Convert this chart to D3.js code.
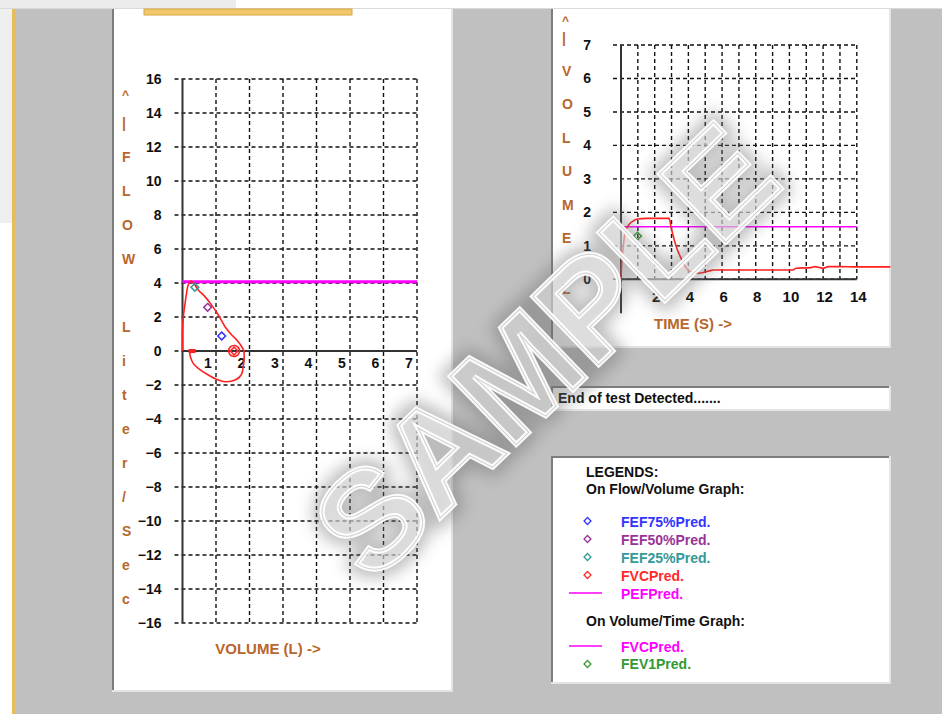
<!DOCTYPE html>
<html><head><meta charset="utf-8">
<script src="https://cdn.jsdelivr.net/npm/d3@7"></script>
<style>
body{margin:0;background:#c0c0c0;overflow:hidden}
svg{display:block}
text{font-family:"Liberation Sans",Arial,sans-serif;font-weight:bold}
</style>
</head><body>
<svg id="c" width="942" height="714"></svg>
<script>
// ---------------- DATA ----------------
const flowTicks = [16,14,12,10,8,6,4,2,0,-2,-4,-6,-8,-10,-12,-14,-16];
const volumeTicks = [1,2,3,4,5,6,7];
const flowTitleChars = ["|","F","L","O","W"," ","L","i","t","e","r","/","S","e","c"];
const loopVolume = [0.00,0.00,0.00,0.02,0.07,0.12,0.17,0.25,0.35,0.47,0.67,0.87,1.07,1.27,1.47,1.62,1.77,1.83,1.84,1.82,1.75,1.57,1.27,1.07,0.77,0.47,0.32,0.25,0.22,0.25];
const loopFlow   = [0.00,0.50,1.14,1.92,2.70,3.39,3.88,4.12,3.95,3.59,3.20,2.70,2.12,1.43,0.94,0.65,0.25,0.00,-0.40,-0.82,-1.41,-1.71,-1.81,-1.71,-1.41,-1.02,-0.73,-0.43,-0.08,0.00];
const pefPred = 4.07;
const predNames  = ["FEF75%Pred.","FEF50%Pred.","FEF25%Pred.","FVCPred."];
const predVolume = [1.17,0.75,0.37,1.54];
const predFlow   = [0.88,2.57,3.75,0.00];
const loopStartVolume = 0.27;

const timeTicksY = [0,1,2,3,4,5,6,7];
const timeTicksX = [2,4,6,8,10,12,14];
const timeGridX = [1,2,3,4,5,6,7,8,9,10,11,12,13,14];
const volTitleChars = ["|","V","O","L","U","M","E"];
const timeSec = [0,0.02,0.10,0.25,0.50,0.75,1.0,1.5,2.0,2.5,2.85,2.9,3.0,3.15,3.3,3.5,3.7,3.9,4.1,4.4,4.7,5.0,5.3,5.5,6.5,8.0,10.2,10.4,11.3,11.5,11.8,12.0,12.3,13.0,14.0,16.0];
const timeVol = [0,0.30,0.80,1.40,1.65,1.75,1.80,1.82,1.82,1.82,1.82,1.75,1.50,1.20,0.95,0.70,0.48,0.32,0.23,0.18,0.19,0.22,0.26,0.28,0.28,0.28,0.28,0.33,0.35,0.38,0.35,0.33,0.38,0.38,0.37,0.37];
const fvcPredVT = 1.57;
const fev1Time = 0.98, fev1Vol = 1.29;

const legendFlowNames = ["FEF75%Pred.","FEF50%Pred.","FEF25%Pred.","FVCPred.","PEFPred."];
const legendTimeNames = ["FVCPred.","FEV1Pred."];

// ---------------- STYLE ----------------
const C = {bg:"#c0c0c0", brown:"#b8672c", grid:"#111", axis:"#333", red:"#ff2020", mag:"#ff00ff",
  pred:["#3333ff","#993399","#339999","#ff2a2a"], green:"#339933", tick:"#111"};
const predColor = d => C.pred[d];
const fmt = d3.format("d");

const svg = d3.select("#c");
const defs = svg.append("defs");
defs.append("filter").attr("id","blur").attr("x","-20%").attr("y","-20%").attr("width","140%").attr("height","140%")
  .append("feGaussianBlur").attr("stdDeviation",8);

// ---------------- BACKGROUND / PANELS ----------------
svg.append("rect").attr("width",942).attr("height",714).attr("fill",C.bg);
svg.append("rect").attr("x",0).attr("y",0).attr("width",236).attr("height",9).attr("fill","#ececec");
svg.append("rect").attr("x",236).attr("y",0).attr("width",706).attr("height",9).attr("fill","#fff");
svg.append("line").attr("x1",0).attr("x2",942).attr("y1",8.5).attr("y2",8.5).attr("stroke","#dadada");
svg.append("rect").attr("x",0).attr("y",9).attr("width",12).attr("height",214).attr("fill","#efefef");
svg.append("rect").attr("x",0).attr("y",223).attr("width",12).attr("height",491).attr("fill","#fff");
svg.append("rect").attr("x",12).attr("y",9).attr("width",3).attr("height",705).attr("fill","#e6bd5c");

function panel(x,y,w,h,top){
  svg.append("rect").attr("x",x).attr("y",y).attr("width",w).attr("height",h).attr("fill","#fff");
  svg.append("line").attr("x1",x+1).attr("x2",x+1).attr("y1",y).attr("y2",y+h).attr("stroke","#7d7d7d").attr("stroke-width",2);
  if(top) svg.append("line").attr("x1",x).attr("x2",x+w).attr("y1",y+1).attr("y2",y+1).attr("stroke","#7d7d7d").attr("stroke-width",2);
  svg.append("line").attr("x1",x+w-1).attr("x2",x+w-1).attr("y1",y).attr("y2",y+h).attr("stroke","#e4e4e4").attr("stroke-width",2);
  svg.append("line").attr("x1",x).attr("x2",x+w).attr("y1",y+h-1).attr("y2",y+h-1).attr("stroke","#e4e4e4").attr("stroke-width",2);
}
panel(112,9,341,683,false);
panel(551,9,340,339,false);
panel(551,386,340,25,true);
panel(551,456,340,228,true);
svg.append("rect").attr("x",144).attr("y",9).attr("width",208).attr("height",6).attr("fill","#f1c86a").attr("stroke","#d6a640").attr("stroke-width",1);

// ---------------- FLOW / VOLUME ----------------
const fx = d3.scaleLinear().domain([0,7]).range([182.5,417]);
const fy = d3.scaleLinear().domain([-16,16]).range([623,79]);
const g1 = svg.append("g");
const dash = "4,3";
g1.selectAll("line.h").data(flowTicks).join("line")
  .attr("x1",fx(0)-8).attr("x2",fx(7)).attr("y1",d=>fy(d)).attr("y2",d=>fy(d))
  .attr("stroke",C.grid).attr("stroke-width",1.4).attr("stroke-dasharray",dash);
g1.selectAll("line.v").data(volumeTicks).join("line")
  .attr("x1",d=>fx(d)).attr("x2",d=>fx(d)).attr("y1",fy(16)).attr("y2",fy(-16))
  .attr("stroke",C.grid).attr("stroke-width",1.4).attr("stroke-dasharray",dash);
g1.append("line").attr("x1",fx(0)).attr("x2",fx(0)).attr("y1",fy(16)).attr("y2",fy(-16)).attr("stroke",C.axis).attr("stroke-width",2);
g1.append("line").attr("x1",fx(0)).attr("x2",fx(7)).attr("y1",fy(0)).attr("y2",fy(0)).attr("stroke",C.axis).attr("stroke-width",2);

const ya = g1.append("g").attr("transform",`translate(${fx(0)},0)`)
  .call(d3.axisLeft(fy).tickValues(flowTicks).tickFormat(fmt).tickSize(0).tickPadding(21));
ya.select(".domain").remove();
ya.selectAll("text").attr("font-size",14).attr("font-family",null).attr("fill",C.tick);
const xa = g1.append("g").attr("transform",`translate(0,${fy(0)})`)
  .call(d3.axisBottom(fx).tickValues(volumeTicks).tickFormat(fmt).tickSize(0).tickPadding(7));
xa.select(".domain").remove();
xa.selectAll("text").attr("font-size",14).attr("font-family",null).attr("fill",C.tick).attr("dx",-8.5);

// Y title
g1.append("text").attr("x",122).attr("y",fy(15)+3).attr("font-size",12).attr("fill",C.brown).text("^");
g1.selectAll("text.yt").data(flowTitleChars).join("text")
  .attr("x",122).attr("y",(d,i)=>fy(14-2*i)+10).attr("dominant-baseline","central")
  .attr("font-size",14).attr("fill",C.brown).text(d=>d);
g1.append("text").attr("x",268).attr("y",654).attr("text-anchor","middle").attr("font-size",15).attr("fill",C.brown).text("VOLUME (L) ->");

// PEF line
g1.append("line").attr("x1",fx(0)).attr("x2",fx(7)).attr("y1",fy(pefPred)).attr("y2",fy(pefPred)).attr("stroke",C.mag).attr("stroke-width",3);
// loop
const loopPts = loopVolume.map((v,i)=>[v,loopFlow[i]]);
g1.append("path").datum(loopPts)
  .attr("d",d3.line().x(d=>fx(d[0])).y(d=>fy(d[1])).curve(d3.curveCatmullRom))
  .attr("fill","none").attr("stroke",C.red).attr("stroke-width",1.6);
g1.append("rect").attr("x",fx(loopStartVolume)-3).attr("y",fy(0)-2).attr("width",7).attr("height",4).attr("fill",C.red);
// markers
const diamond = d3.symbol(d3.symbolSquare, 30);
g1.selectAll("path.pm").data(predNames).join("path")
  .attr("d",diamond).attr("transform",(d,i)=>`translate(${fx(predVolume[i])},${fy(predFlow[i])}) rotate(45)`)
  .attr("fill","none").attr("stroke",(d,i)=>predColor(i)).attr("stroke-width",1.5);
g1.append("circle").attr("cx",fx(predVolume[3])).attr("cy",fy(predFlow[3])).attr("r",5.5).attr("fill","none").attr("stroke",C.red).attr("stroke-width",1.5);

// ---------------- VOLUME / TIME ----------------
const vx = d3.scaleLinear().domain([0,14]).range([621,856.8]);
const vy = d3.scaleLinear().domain([0,7]).range([279.3,45]);
const g2 = svg.append("g");
g2.selectAll("line.h").data(timeTicksY).join("line")
  .attr("x1",vx(0)-8).attr("x2",vx(14)).attr("y1",d=>vy(d)).attr("y2",d=>vy(d))
  .attr("stroke",C.grid).attr("stroke-width",1.4).attr("stroke-dasharray",dash);
g2.selectAll("line.v").data(timeGridX).join("line")
  .attr("x1",d=>vx(d)).attr("x2",d=>vx(d)).attr("y1",vy(7)).attr("y2",vy(0))
  .attr("stroke",C.grid).attr("stroke-width",1.4).attr("stroke-dasharray",dash);
g2.append("line").attr("x1",vx(0)).attr("x2",vx(0)).attr("y1",vy(7)).attr("y2",vy(0)+34).attr("stroke",C.axis).attr("stroke-width",2);
g2.append("line").attr("x1",vx(0)).attr("x2",vx(14)).attr("y1",vy(0)).attr("y2",vy(0)).attr("stroke",C.axis).attr("stroke-width",2);
const vya = g2.append("g").attr("transform",`translate(${vx(0)},0)`)
  .call(d3.axisLeft(vy).tickValues(timeTicksY).tickFormat(fmt).tickSize(0).tickPadding(30));
vya.select(".domain").remove();
vya.selectAll("text").attr("font-size",14).attr("font-family",null).attr("fill",C.tick);
const vxa = g2.append("g").attr("transform",`translate(0,${vy(0)})`)
  .call(d3.axisBottom(vx).tickValues(timeTicksX).tickFormat(fmt).tickSize(0).tickPadding(12));
vxa.select(".domain").remove();
vxa.selectAll("text").attr("font-size",15).attr("font-family",null).attr("fill",C.tick).attr("dx",1);

g2.append("text").attr("x",562).attr("y",vy(7)-20).attr("font-size",12).attr("fill",C.brown).text("^");
g2.selectAll("text.yt").data(volTitleChars).join("text")
  .attr("x",562).attr("y",(d,i)=>vy(7-i)-7.5).attr("dominant-baseline","central")
  .attr("font-size",14).attr("fill",C.brown).text(d=>d);
g2.append("text").attr("x",562).attr("y",vy(0)+10).attr("dominant-baseline","central").attr("font-size",14).attr("fill",C.brown).text("L");
g2.append("text").attr("x",693).attr("y",329).attr("text-anchor","middle").attr("font-size",15).attr("fill",C.brown).text("TIME (S) ->");

g2.append("line").attr("x1",vx(0)).attr("x2",vx(14)).attr("y1",vy(fvcPredVT)).attr("y2",vy(fvcPredVT)).attr("stroke",C.mag).attr("stroke-width",1.6);
g2.append("path").datum(timeSec.map((t,i)=>[t,timeVol[i]]))
  .attr("d",d3.line().x(d=>vx(d[0])).y(d=>vy(d[1])).curve(d3.curveMonotoneX))
  .attr("fill","none").attr("stroke",C.red).attr("stroke-width",1.6);
g2.append("path").attr("d",diamond).attr("transform",`translate(${vx(fev1Time)},${vy(fev1Vol)}) rotate(45)`)
  .attr("fill","none").attr("stroke",C.green).attr("stroke-width",1.5);

// ---------------- STATUS ----------------
svg.append("text").attr("x",558).attr("y",403).attr("font-size",14).attr("fill","#111").text("End of test Detected.......");

// ---------------- LEGEND ----------------
const lg = svg.append("g");
lg.append("text").attr("x",586).attr("y",477).attr("font-size",14).attr("fill","#111").text("LEGENDS:");
lg.append("text").attr("x",586).attr("y",494).attr("font-size",14).attr("fill","#111").text("On Flow/Volume Graph:");
const legColors = [C.pred[0],C.pred[1],C.pred[2],C.pred[3],C.mag];
lg.selectAll("text.lf").data(legendFlowNames).join("text")
  .attr("x",621).attr("y",(d,i)=>527+18*i).attr("font-size",14).attr("fill",(d,i)=>legColors[i]).text(d=>d);
lg.selectAll("path.lm").data(legendFlowNames.slice(0,4)).join("path")
  .attr("d",d3.symbol(d3.symbolSquare,24)).attr("transform",(d,i)=>`translate(587.5,${521+18*i}) rotate(45)`)
  .attr("fill","none").attr("stroke",(d,i)=>legColors[i]).attr("stroke-width",1.3);
lg.append("line").attr("x1",569).attr("x2",602).attr("y1",593).attr("y2",593).attr("stroke",C.mag).attr("stroke-width",1.5);
lg.append("text").attr("x",586).attr("y",626).attr("font-size",14).attr("fill","#111").text("On Volume/Time Graph:");
lg.append("line").attr("x1",569).attr("x2",602).attr("y1",646).attr("y2",646).attr("stroke",C.mag).attr("stroke-width",1.5);
lg.selectAll("text.lt").data(legendTimeNames).join("text")
  .attr("x",621).attr("y",(d,i)=>652+17*i).attr("font-size",14).attr("fill",(d,i)=>i?C.green:C.mag).text(d=>d);
lg.append("path").attr("d",d3.symbol(d3.symbolSquare,24)).attr("transform","translate(587.5,664) rotate(45)")
  .attr("fill","none").attr("stroke",C.green).attr("stroke-width",1.3);

// ---------------- WATERMARK ----------------
const wm = svg.append("g").attr("transform","translate(545,350) rotate(-44)");
wm.append("text").attr("text-anchor","middle").attr("dominant-baseline","central").attr("font-size",138)
  .attr("fill","none").attr("stroke","#6a6a6a").attr("stroke-width",18).attr("opacity",0.45).attr("filter","url(#blur)").text("SAMPLE");
wm.append("text").attr("text-anchor","middle").attr("dominant-baseline","central").attr("font-size",138)
  .attr("fill","#fff").attr("fill-opacity",0.45).attr("stroke","#fff").attr("stroke-width",5).attr("stroke-opacity",0.95).text("SAMPLE");
wm.append("text").attr("text-anchor","middle").attr("dominant-baseline","central").attr("font-size",138)
  .attr("fill","none").attr("stroke","#d0d0d0").attr("stroke-width",1).text("SAMPLE");
</script>
</body></html>
